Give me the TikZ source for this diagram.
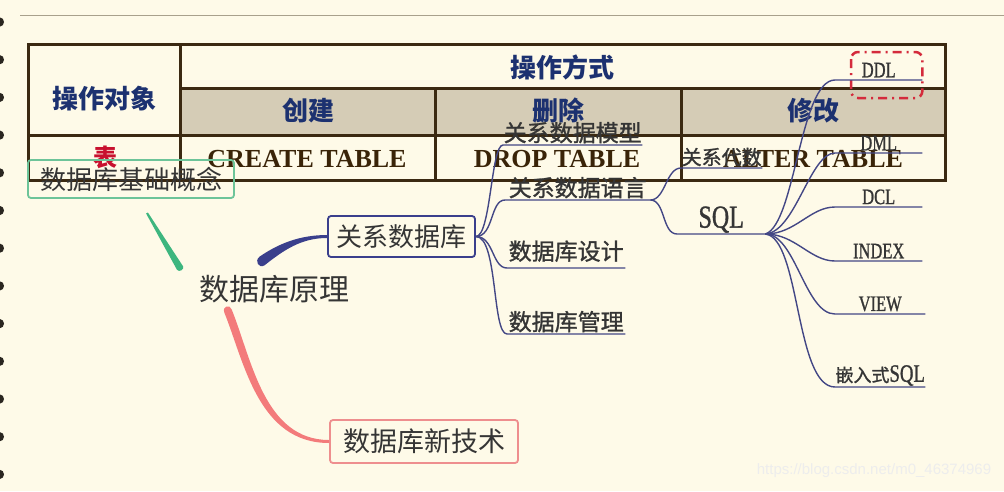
\documentclass[tikz,border=0pt]{standalone}
\usepackage{fontspec}
\setmainfont{Liberation Serif}
\newfontfamily\cjk{Noto Sans CJK SC}
\newfontfamily\cjkdark[FakeBold=1.2]{Noto Sans CJK SC}
\newfontfamily\narrowserif[FakeStretch=0.75, FakeBold=1]{Liberation Serif}
\newfontfamily\wmfont{Liberation Sans}
\usetikzlibrary{positioning, calc}

\definecolor{paper}{HTML}{FEFAE8}
\definecolor{ruleline}{HTML}{A8A08C}
\definecolor{holes}{HTML}{2A2620}
\definecolor{gridline}{HTML}{3B2911}
\definecolor{headfill}{HTML}{D5CCB6}
\definecolor{headblue}{HTML}{1C3170}
\definecolor{cmdbrown}{HTML}{3A2408}
\definecolor{tablered}{HTML}{C8102E}
\definecolor{mindgray}{HTML}{353535}
\definecolor{basegreen}{HTML}{3DB67F}
\definecolor{boxgreen}{HTML}{6DC499}
\definecolor{deepblue}{HTML}{3A3F8C}
\definecolor{thinblue}{HTML}{434785}
\definecolor{salmon}{HTML}{F37B7B}
\definecolor{boxsalmon}{HTML}{EE8E8E}
\definecolor{ddlred}{HTML}{D42B3C}

\tikzset{
    tablerule/.style={draw=gridline, line width=3pt}, % rules of the table
    headtext/.style={font=\cjk\bfseries\fontsize{26}{30}\selectfont, text=headblue, inner sep=0pt},
    cmdtext/.style={font=\bfseries\fontsize{26}{30}\selectfont, text=cmdbrown, inner sep=0pt},
    topic/.style={draw, rounded corners=3pt, line width=1.8pt, text=mindgray, inner sep=0pt,
        font=\cjk\fontsize{26}{30}\selectfont}, % boxed main topics
    leaf/.style={anchor=south west, inner xsep=0pt, inner ysep=1.5pt, text=mindgray,
        font=\cjkdark\fontsize{23}{26}\selectfont}, % underlined sub topics
    keyword/.style={leaf, inner ysep=2.5pt, font=\narrowserif\fontsize{22}{24}\selectfont},
    twig/.style={draw=thinblue, line width=1.4pt}, % thin branches
    ddlbox/.style={draw=ddlred, line width=2.5pt, rounded corners=7pt,
        dash pattern=on 9pt off 5pt on 2pt off 5pt},
}

\begin{document}
\begin{tikzpicture}[x=1pt, y=1pt]
    \useasboundingbox[fill=paper] (0,0) rectangle (1004,-491);
    % notebook holes and top rule
    \foreach \k in {0,...,12}
        \fill[holes] (0,-22-37.7*\k) ellipse (4 and 4.5);
    \draw[ruleline, line width=1pt] (20,-15) -- (1004,-15);

    % the table
    \fill[headfill] (180,-88) rectangle (945,-135);
    \draw[tablerule] (28,-44) rectangle (945,-180);
    \draw[tablerule] (180,-44) -- (180,-180)
        (180,-88) -- (945,-88)
        (28,-135) -- (945,-135)
        (435,-88) -- (435,-180)
        (681,-88) -- (681,-180);

    \node[headtext] (object) at (104,-99) {操作对象};
    \node[headtext] (method) at (562,-67) {操作方式};
    \node[headtext] (create) at (308,-111) {创建};
    \node[headtext] (drop) at (558,-111) {删除};
    \node[headtext] (alter) at (813,-111) {修改};
    \node[headtext, text=tablered, font=\cjk\bfseries\fontsize{24}{28}\selectfont] (tbl) at (105,-157) {表};
    \node[cmdtext] (createcmd) at (307,-159) {CREATE TABLE};
    \node[cmdtext] (dropcmd) at (557,-159) {DROP TABLE};
    \node[cmdtext] (altercmd) at (813,-159) {ALTER TABLE};

    % the mind map
    \node[font=\cjk\fontsize{30}{34}\selectfont, text=mindgray] (root) at (274,-289) {数据库原理};
    \node[topic, draw=boxgreen, minimum width=206pt, minimum height=38pt] (basic) at (131,-179) {数据库基础概念};
    \node[topic, draw=deepblue, minimum width=147pt, minimum height=41pt] (rdb) at (401.5,-236.5) {关系数据库};
    \node[topic, draw=boxsalmon, minimum width=188pt, minimum height=43pt,
        font=\cjk\fontsize{27}{30}\selectfont] (newtech) at (424,-441.5) {数据库新技术};

    \node[leaf, minimum width=139pt] (model) at (503,-145) {关系数据模型};
    \node[leaf, minimum width=145pt] (lang) at (505,-200) {关系数据语言};
    \node[leaf, minimum width=118pt, inner ysep=6pt] (design) at (507,-268) {数据库设计};
    \node[leaf, minimum width=118pt] (manage) at (507,-334) {数据库管理};
    \node[leaf, minimum width=81pt, font=\cjkdark\fontsize{20}{22}\selectfont] (algebra) at (681,-168) {关系代数};
    \node[keyword, minimum width=88pt, inner ysep=1pt,
        font=\narrowserif\fontsize{32}{34}\selectfont] (sql) at (677,-234) {SQL};

    \node[keyword, minimum width=87pt] (ddl) at (835,-80) {DDL};
    \node[keyword, minimum width=87pt] (dml) at (835,-153) {DML};
    \node[keyword, minimum width=87pt] (dcl) at (835,-207) {DCL};
    \node[keyword, minimum width=87pt] (index) at (835,-261) {INDEX};
    \node[keyword, minimum width=90pt] (view) at (835,-314) {VIEW};
    \node[keyword, minimum width=90pt, inner ysep=1pt,
        font=\narrowserif\fontsize{25}{27}\selectfont] (embed) at (835,-387) {{\cjkdark\fontsize{18}{20}\selectfont 嵌入式}SQL};

    \draw[ddlbox] ([shift={(16pt,28pt)}]ddl.south west) rectangle ([yshift=-18pt]ddl.south east);

    % thick tapered branches
    \coordinate (base-tip) at (147,-213);
    \coordinate (base-hub) at (180,-268);
    \coordinate (rdb-hub) at (262,-261);
    \coordinate (new-hub) at (228,-311);

    \fill[basegreen] ([shift={(-0.9,-0.5)}]base-tip) -- ([shift={(0.9,0.5)}]base-tip)
        -- ([shift={(3,1.8)}]base-hub) .. controls +(2,-3) and +(2,-3) .. ([shift={(-3,-1.8)}]base-hub) -- cycle;
    \fill[deepblue] ([shift={(-2.5,4.3)}]rdb-hub) .. controls +(18.5,12.7) and +(-28,0) .. ([yshift=1.5pt]rdb.west)
        -- ([yshift=-1.5pt]rdb.west) .. controls +(-26,0) and +(19.5,15.3) .. ([shift={(2.5,-4.3)}]rdb-hub)
        .. controls +(-5.5,-3.7) and +(-5.5,-4.3) .. cycle;
    \fill[salmon] ([shift={(-3.7,-1.5)}]new-hub) .. controls +(20,-49.5) and +(-71,0) .. ([yshift=-1.5pt]newtech.west)
        -- ([yshift=1.5pt]newtech.west) .. controls +(-65,0) and +(20,-49.5) .. ([shift={(3.7,1.5)}]new-hub)
        .. controls +(-1.7,5.5) and +(-2.3,6.5) .. cycle;

    % thin branches
    \draw[twig] (rdb.east) .. controls +(15,0) and +(-12,0) .. (model.south west) -- (model.south east);
    \draw[twig] (rdb.east) .. controls +(18,0) and +(-15,0) .. (lang.south west) -- (lang.south east);
    \draw[twig] (rdb.east) .. controls +(18,0) and +(-15,0) .. (design.south west) -- (design.south east);
    \draw[twig] (rdb.east) .. controls +(22,0) and +(-15,0) .. (manage.south west) -- (manage.south east);
    \draw[twig] (lang.south east) .. controls +(15,0) and +(-15,0) .. (algebra.south west) -- (algebra.south east);
    \draw[twig] (lang.south east) .. controls +(15,0) and +(-15,0) .. (sql.south west) -- (sql.south east);
    \draw[twig] (sql.south east) .. controls +(30,10) and +(-35,0) .. (ddl.south west) -- (ddl.south east);
    \draw[twig] (sql.south east) .. controls +(30,2) and +(-25,0) .. (dml.south west) -- (dml.south east);
    \draw[twig] (sql.south east) .. controls +(30,0) and +(-25,0) .. (dcl.south west) -- (dcl.south east);
    \draw[twig] (sql.south east) .. controls +(30,0) and +(-25,0) .. (index.south west) -- (index.south east);
    \draw[twig] (sql.south east) .. controls +(30,0) and +(-30,0) .. (view.south west) -- (view.south east);
    \draw[twig] (sql.south east) .. controls +(35,-4) and +(-40,0) .. (embed.south west) -- (embed.south east);

    \node[font=\wmfont\fontsize{15}{17}\selectfont, text=black!7] (mark) at (874,-471) {https://blog.csdn.net/m0\_46374969};
\end{tikzpicture}
\end{document}
